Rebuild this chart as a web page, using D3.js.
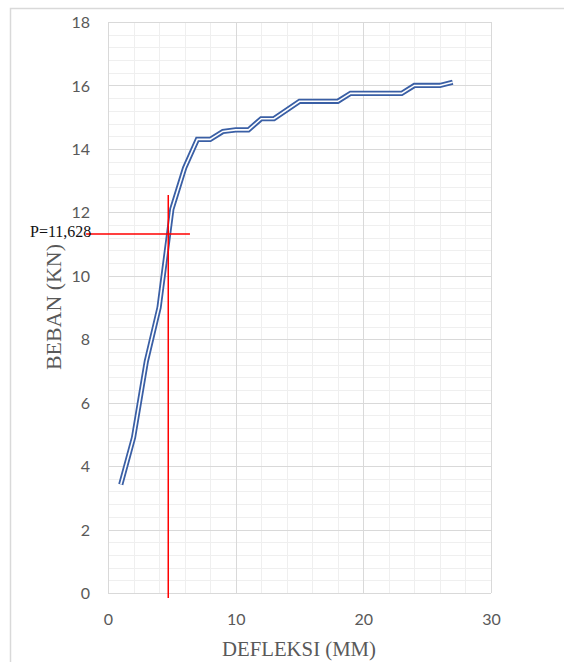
<!DOCTYPE html>
<html><head><meta charset="utf-8">
<script src="https://cdn.jsdelivr.net/npm/d3@7"></script>
<style>html,body{margin:0;padding:0;background:#fff;}svg{display:block;}</style>
</head><body>
<svg id="c" width="564" height="662"></svg>
<script>
const deflection = [1, 2, 3, 4, 5, 6, 7, 8, 9, 10, 11, 12, 13, 15, 18, 19, 23, 24, 26, 27];
const load =       [3.42, 4.9, 7.3, 9.0, 12.1, 13.4, 14.3, 14.3, 14.55, 14.6, 14.6, 14.95, 14.95, 15.5, 15.5, 15.75, 15.75, 16.0, 16.0, 16.1];
const xTicks = [0, 10, 20, 30];
const yTicks = [0, 2, 4, 6, 8, 10, 12, 14, 16, 18];
const markX = 4.72, markY = 11.32;
const markLabel = "P=11,628";
const xTitle = "DEFLEKSI (MM)", yTitle = "BEBAN (KN)";

const svg = d3.select("#c");
const x = d3.scaleLinear().domain([0, 30]).range([108, 491]);
const y = d3.scaleLinear().domain([0, 18]).range([593, 22]);

// outer frame
svg.append("path").attr("d", "M10.5,662 L10.5,8.5 L564,8.5").attr("fill", "none").attr("stroke", "#d9d9d9").attr("stroke-width", 1.5);

// minor gridlines
const g = svg.append("g");
g.selectAll(".mx").data(d3.range(0, 30.01, 2).filter(v => v % 10 !== 0)).join("line")
  .attr("x1", d => Math.round(x(d)) + 0.5).attr("x2", d => Math.round(x(d)) + 0.5)
  .attr("y1", y(0)).attr("y2", y(18)).attr("stroke", "#efefef").attr("stroke-width", 1);
g.selectAll(".my").data(d3.range(0, 18.001, 0.4).filter(v => Math.abs(v / 2 - Math.round(v / 2)) > 1e-6)).join("line")
  .attr("y1", d => Math.round(y(d)) + 0.5).attr("y2", d => Math.round(y(d)) + 0.5)
  .attr("x1", x(0)).attr("x2", x(30)).attr("stroke", "#efefef").attr("stroke-width", 1);
// major gridlines
g.selectAll(".Mx").data(xTicks).join("line")
  .attr("x1", d => Math.round(x(d)) + 0.5).attr("x2", d => Math.round(x(d)) + 0.5)
  .attr("y1", y(0)).attr("y2", y(18)).attr("stroke", "#d9d9d9").attr("stroke-width", 1);
g.selectAll(".My").data(yTicks).join("line")
  .attr("y1", d => Math.round(y(d)) + 0.5).attr("y2", d => Math.round(y(d)) + 0.5)
  .attr("x1", x(0)).attr("x2", x(30)).attr("stroke", "#d9d9d9").attr("stroke-width", 1);

// axes labels via d3 axes
const yAxis = svg.append("g").attr("transform", "translate(90,0)")
  .call(d3.axisLeft(y).tickValues(yTicks).tickSize(0).tickPadding(0));
yAxis.select(".domain").remove();
yAxis.selectAll("text").attr("font-family", "Lato, 'Open Sans', sans-serif").attr("font-size", 16).attr("fill", "#595959").attr("dy", "0.35em");

const xAxis = svg.append("g").attr("transform", "translate(0,625)")
  .call(d3.axisBottom(x).tickValues(xTicks).tickSize(0).tickPadding(0));
xAxis.select(".domain").remove();
xAxis.selectAll("text").attr("font-family", "Lato, 'Open Sans', sans-serif").attr("font-size", 16).attr("fill", "#595959").attr("dy", 0);

// titles
svg.append("text").attr("x", 299).attr("y", 656).attr("text-anchor", "middle")
  .attr("font-family", "'Liberation Serif', serif").attr("font-size", 22).attr("fill", "#595959")
  .attr("textLength", 154).attr("lengthAdjust", "spacingAndGlyphs").text(xTitle);
svg.append("text").attr("transform", "translate(61,307) rotate(-90)").attr("text-anchor", "middle")
  .attr("font-family", "'Liberation Serif', serif").attr("font-size", 22).attr("fill", "#595959")
  .attr("textLength", 126).attr("lengthAdjust", "spacingAndGlyphs").text(yTitle);

// data line (double line style)
const line = d3.line().x((d, i) => x(deflection[i])).y(d => y(d));
svg.append("path").datum(load).attr("d", line).attr("fill", "none")
  .attr("stroke", "#3a5fa5").attr("stroke-width", 5.2).attr("stroke-linejoin", "miter");
svg.append("path").datum(load).attr("d", line).attr("fill", "none")
  .attr("stroke", "#ffffff").attr("stroke-width", 1.6).attr("stroke-linejoin", "miter");

// red marker lines
svg.append("line").attr("x1", x(markX)).attr("x2", x(markX)).attr("y1", y(12.55)).attr("y2", y(0) + 5)
  .attr("stroke", "#ff0000").attr("stroke-width", 1.5);
svg.append("line").attr("x1", x(-1.72)).attr("x2", x(6.42)).attr("y1", y(markY)).attr("y2", y(markY))
  .attr("stroke", "#ff0000").attr("stroke-width", 1.5);

svg.append("text").attr("x", 30).attr("y", 237).attr("font-family", "'Liberation Serif', serif")
  .attr("font-size", 16).attr("fill", "#111").text(markLabel);
</script>
</body></html>
